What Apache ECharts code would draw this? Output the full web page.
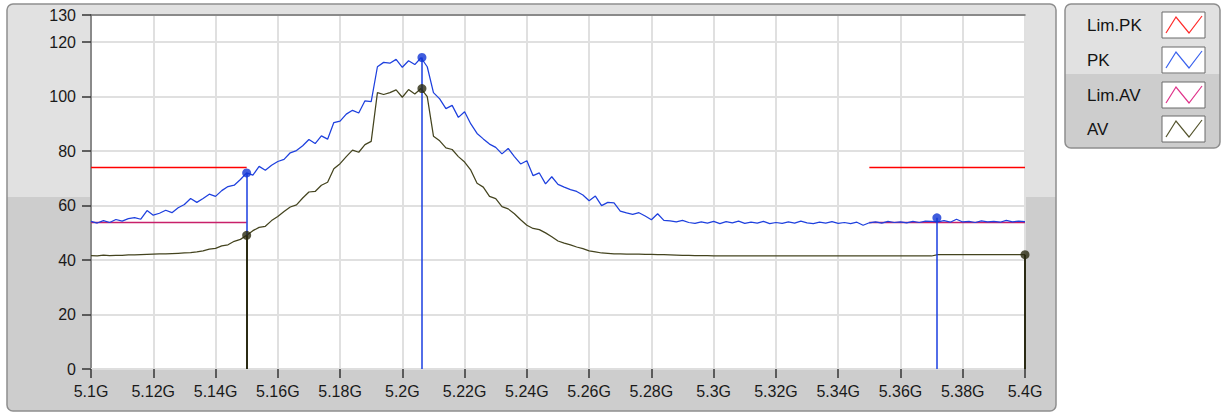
<!DOCTYPE html>
<html><head><meta charset="utf-8">
<script src="https://cdn.jsdelivr.net/npm/echarts@6/dist/echarts.min.js"></script>
<style>html,body{margin:0;padding:0;background:#fff;}#c{width:1223px;height:414px;}</style>
</head><body><div id="c"></div>
<script>
// Sweep definition (GHz)
const fStart = 5.1, fStep = 0.002;
// PK trace (dBµV), one value per 2 MHz
const pkValues = [
54.2,53.6,54.5,53.8,54.9,54.3,55.2,55.6,55.0,58.2,
56.5,57.2,58.3,57.4,59.2,60.4,62.6,61.2,62.6,64.2,
63.4,65.5,67.0,67.5,69.6,72.0,71.2,74.4,73.0,74.8,
76.2,77.0,79.4,80.2,82.0,84.3,82.8,85.6,84.4,90.5,
91.0,93.6,95.0,94.0,98.5,98.2,111.0,112.6,112.3,113.7,
110.8,113.2,111.8,114.3,111.0,101.5,99.2,95.6,96.8,92.4,
94.5,90.0,86.5,84.5,82.6,81.4,79.0,81.0,78.0,75.3,
76.5,71.0,72.0,68.0,70.6,67.8,66.8,65.9,65.2,63.9,
61.8,63.5,60.0,61.2,61.0,58.0,57.3,56.8,57.4,56.2,
54.8,57.0,54.6,54.4,54.0,54.6,53.8,53.5,54.0,53.6,
54.2,
53.4,54.1,53.7,54.3,53.5,53.9,53.6,54.2,53.4,53.8,
53.5,54.0,53.6,54.3,53.7,53.4,53.9,53.6,54.1,53.5,
53.8,53.4,53.9,52.8,53.7,54.0,53.6,54.2,53.8,54.0,
53.7,54.2,53.8,54.3,54.2,54.0,54.5,53.9,55.0,54.0,
54.2,53.8,54.4,54.0,54.2,53.9,54.6,54.0,54.3,54.1
];
// AV trace
const avValues = [
41.6,41.5,41.8,41.6,41.7,41.7,41.9,41.9,42.0,42.1,
42.2,42.3,42.3,42.4,42.5,42.6,42.7,43.0,43.4,44.0,
44.3,45.2,45.6,46.9,47.6,49.1,50.8,52.0,52.4,54.5,
56.0,57.8,59.5,60.3,62.8,65.0,65.2,67.5,68.6,73.5,
75.4,78.0,80.4,79.6,82.4,83.6,101.5,100.8,101.5,102.5,
99.8,102.6,101.0,103.0,100.0,85.5,83.8,81.2,80.6,78.0,
76.0,73.0,68.2,66.8,63.4,62.6,59.6,58.8,57.0,54.8,
52.8,51.6,51.2,50.0,48.6,47.0,46.2,45.6,44.8,44.2,
43.4,43.0,42.6,42.5,42.3,42.3,42.2,42.2,42.2,42.1,
42.1,42.0,42.0,41.9,41.8,41.7,41.7,41.6,41.6,41.6,
41.5,41.5,41.5,41.5,41.5,41.5,41.5,41.5,41.5,41.5,
41.5,41.5,41.5,41.5,41.5,41.5,41.5,41.5,41.5,41.5,
41.5,41.5,41.5,41.5,41.5,41.5,41.5,41.5,41.5,41.5,
41.5,41.5,41.5,41.5,41.5,41.5,42.0,42.0,42.0,42.0,
42.0,42.0,42.0,42.0,42.0,42.0,42.0,42.0,42.0,42.0,42.0
];
// Limit lines: segments [from, to] and levels
const limSegments = [[5.1, 5.15], [5.35, 5.4]];
const limPkLevel = 74;
const limAvLevel = 53.8;
// Cursors
const pkCursorF = [5.15, 5.2063, 5.3717];
const pkCursorV = [72, 114.4, 55.5];
const avCursorF = [5.15, 5.2063, 5.4];
const avCursorV = [49.1, 103, 42];
const avDropIdx = [0, 2];
// Axis
const xMin = 5.1, xMax = 5.4, xInterval = 0.02;
const yMin = 0, yMax = 130, yInterval = 20;
const legendNames = ['Lim.PK', 'PK', 'Lim.AV', 'AV'];
const legendColors = ['#ff2a2a', '#3a62ee', '#e0338a', '#55552e'];

const freq = pkValues.map((_, i) => +(fStart + i * fStep).toFixed(4));
const pkData = freq.map((f, i) => [f, pkValues[i]]);
const avData = freq.map((f, i) => [f, avValues[i]]);
function limData(level) {
  const d = [];
  limSegments.forEach((s, k) => {
    if (k > 0) d.push([(limSegments[k-1][1] + s[0]) / 2, '-']);
    d.push([s[0], level], [s[1], level]);
  });
  return d;
}
const FONT = '"Liberation Sans", Arial, sans-serif';
const PK_COLOR = '#1e40de', AV_COLOR = '#44441f';

const chart = echarts.init(document.getElementById('c'), null, {renderer: 'svg'});

const graphics = [
  {type: 'rect', z: -100, shape: {x: 7, y: 4, width: 1049, height: 407, r: 6},
   style: {fill: {type: 'linear', x: 0, y: 0, x2: 0, y2: 1, colorStops: [
     {offset: 0, color: '#e1e1e1'}, {offset: 0.474, color: '#e1e1e1'},
     {offset: 0.474, color: '#cdcdcd'}, {offset: 1, color: '#cdcdcd'}]},
     stroke: '#8e8e8e', lineWidth: 1.5}},
  {type: 'rect', z: -100, shape: {x: 1065, y: 4, width: 155, height: 144, r: 6},
   style: {fill: {type: 'linear', x: 0, y: 0, x2: 0, y2: 1, colorStops: [
     {offset: 0, color: '#e1e1e1'}, {offset: 0.486, color: '#e1e1e1'},
     {offset: 0.486, color: '#cdcdcd'}, {offset: 1, color: '#cdcdcd'}]},
     stroke: '#8e8e8e', lineWidth: 1.5}}
];
const legendTextY = [25, 60, 95, 129];
const legendBoxY = [12, 47, 82, 116];
legendNames.forEach((n, i) => {
  graphics.push({type: 'text', z: 10, style: {x: 1087, y: legendTextY[i], text: n, fill: '#141414',
    font: '17px ' + FONT, textVerticalAlign: 'middle', verticalAlign: 'middle'}});
  graphics.push({type: 'rect', z: 10, shape: {x: 1162, y: legendBoxY[i], width: 43, height: 26},
    style: {fill: '#ffffff', stroke: '#6a6a6a', lineWidth: 1}});
  const bx = 1162, by = legendBoxY[i];
  graphics.push({type: 'polyline', z: 11, shape: {points: [[bx+4, by+21], [bx+14, by+5], [bx+27, by+21], [bx+40, by+4]]},
    style: {stroke: legendColors[i], lineWidth: 1.2, fill: null}});
});

const option = {
  animation: false,
  backgroundColor: '#ffffff',
  textStyle: {fontFamily: FONT},
  grid: {left: 91, right: 198, top: 15, bottom: 45, show: true, backgroundColor: '#ffffff', borderWidth: 0, containLabel: false},
  graphic: graphics,
  xAxis: [{
    type: 'value', min: xMin, max: xMax, interval: xInterval,
    axisLine: {show: true, onZero: false, lineStyle: {color: '#dedede', width: 2}},
    axisTick: {show: true, length: 9, lineStyle: {color: '#333', width: 1.5}},
    axisLabel: {color: '#1a1a1a', fontSize: 16, fontFamily: FONT, margin: 14,
      formatter: v => (+v.toFixed(3)) + 'G'},
    splitLine: {show: true, lineStyle: {color: '#e0e0e0', width: 2}}
  }, {
    type: 'value', min: xMin, max: xMax, position: 'top',
    axisLine: {show: true, onZero: false, lineStyle: {color: '#6e6e6e', width: 1.5}},
    axisTick: {show: false}, axisLabel: {show: false}, splitLine: {show: false}
  }],
  yAxis: {
    type: 'value', min: yMin, max: yMax, interval: yInterval,
    axisLine: {show: true, onZero: false, lineStyle: {color: '#6e6e6e', width: 1.5}},
    axisTick: {show: true, length: 9, lineStyle: {color: '#333', width: 1.5}},
    axisLabel: {color: '#1a1a1a', fontSize: 16, fontFamily: FONT, margin: 15},
    splitLine: {show: true, lineStyle: {color: '#e0e0e0', width: 2}}
  },
  series: [
    {name: 'Lim.PK', type: 'line', data: limData(limPkLevel), symbol: 'none', connectNulls: false,
     lineStyle: {color: '#ff0000', width: 1.5}, itemStyle: {color: '#ff0000'}, z: 2},
    {name: 'Lim.AV', type: 'line', data: limData(limAvLevel), symbol: 'none', connectNulls: false,
     lineStyle: {color: '#c8206a', width: 1.5}, itemStyle: {color: '#c8206a'}, z: 2},
    {name: 'PK', type: 'line', data: pkData, symbol: 'none',
     lineStyle: {color: PK_COLOR, width: 1.25}, itemStyle: {color: PK_COLOR}, z: 3,
     markLine: {silent: true, symbol: ['none', 'none'], label: {show: false},
       lineStyle: {color: '#1a3ee0', width: 1.5, type: 'solid'},
       data: pkCursorF.map((f, i) => [{coord: [f, pkCursorV[i]]}, {coord: [f, 0]}])}},
    {name: 'AV', type: 'line', data: avData, symbol: 'none',
     lineStyle: {color: AV_COLOR, width: 1.25}, itemStyle: {color: AV_COLOR}, z: 4,
     markLine: {silent: true, symbol: ['none', 'none'], label: {show: false},
       lineStyle: {color: '#2b2b14', width: 2, type: 'solid'},
       data: avDropIdx.map(i => [{coord: [avCursorF[i], avCursorV[i]]}, {coord: [avCursorF[i], 0]}])}},
    {name: 'PK cursor', type: 'scatter', data: pkCursorF.map((f, i) => [f, pkCursorV[i]]),
     symbol: 'circle', symbolSize: 9, itemStyle: {color: '#1034d4'}, z: 6},
    {name: 'AV cursor', type: 'scatter', data: avCursorF.map((f, i) => [f, avCursorV[i]]),
     symbol: 'circle', symbolSize: 9, itemStyle: {color: '#2a2a10'}, z: 6}
  ]
};
chart.setOption(option);
</script>
</body></html>
